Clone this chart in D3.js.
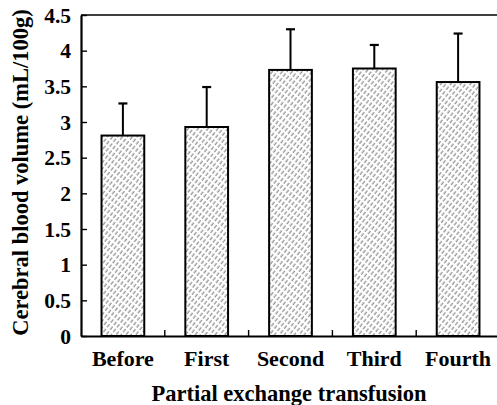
<!DOCTYPE html>
<html>
<head>
<meta charset="utf-8">
<script src="https://cdn.jsdelivr.net/npm/d3@7"></script>
<style>
  html, body { margin: 0; padding: 0; background: #fff; }
  svg { display: block; }
  text { font-family: "Liberation Serif", "Times New Roman", serif; font-weight: bold; fill: #000; }
</style>
</head>
<body>
<svg id="chart" width="497" height="405"></svg>
<script>
const categories = ["Before", "First", "Second", "Third", "Fourth"];
const means = [2.81, 2.93, 3.73, 3.75, 3.56];
const errorTops = [3.26, 3.49, 4.30, 4.08, 4.24];
const yTicks = [0, 0.5, 1, 1.5, 2, 2.5, 3, 3.5, 4, 4.5];
const yTickLabels = ["0", "0.5", "1", "1.5", "2", "2.5", "3", "3.5", "4", "4.5"];
const xTitle = "Partial exchange transfusion";
const yTitle = "Cerebral blood volume (mL/100g)";

const plotLeft = 81, plotRight = 500, plotTop = 15, plotBottom = 336;

const svg = d3.select("#chart");

const defs = svg.append("defs");
const pat = defs.append("pattern")
  .attr("id", "hatch")
  .attr("patternUnits", "userSpaceOnUse")
  .attr("width", 6).attr("height", 3.9)
  .attr("patternTransform", "rotate(-52)");
pat.append("rect").attr("width", 6).attr("height", 3.9).attr("fill", "#fff");
pat.append("line")
  .attr("x1", 0).attr("y1", 1.2).attr("x2", 6).attr("y2", 1.2)
  .attr("stroke", "#555").attr("stroke-width", 0.85)
  .attr("stroke-dasharray", "4,2");

const x = d3.scaleBand()
  .domain(categories)
  .range([plotLeft, plotRight])
  .paddingInner(0.49)
  .paddingOuter(0.245);

const y = d3.scaleLinear().domain([0, 4.5]).range([plotBottom, plotTop]);

// top frame line
svg.append("line")
  .attr("x1", plotLeft).attr("x2", plotRight)
  .attr("y1", y(4.5)).attr("y2", y(4.5))
  .attr("stroke", "#000").attr("stroke-width", 1.6);

// error bars
const capHalf = 4.5;
const eb = svg.append("g");
categories.forEach((c, i) => {
  const cx = x(c) + x.bandwidth() / 2;
  eb.append("line")
    .attr("x1", cx).attr("x2", cx)
    .attr("y1", y(means[i])).attr("y2", y(errorTops[i]))
    .attr("stroke", "#000").attr("stroke-width", 2);
  eb.append("line")
    .attr("x1", cx - capHalf).attr("x2", cx + capHalf)
    .attr("y1", y(errorTops[i])).attr("y2", y(errorTops[i]))
    .attr("stroke", "#000").attr("stroke-width", 2.2);
});

// bars
svg.append("g").selectAll("rect")
  .data(categories)
  .join("rect")
  .attr("x", d => x(d))
  .attr("width", x.bandwidth())
  .attr("y", (d, i) => y(means[i]))
  .attr("height", (d, i) => y(0) - y(means[i]))
  .attr("fill", "url(#hatch)")
  .attr("stroke", "#000")
  .attr("stroke-width", 2);

// y axis
const yAxis = d3.axisLeft(y)
  .tickValues(yTicks)
  .tickFormat((d, i) => yTickLabels[i])
  .tickSizeInner(-6)
  .tickSizeOuter(0)
  .tickPadding(10);
const gy = svg.append("g").attr("transform", `translate(${plotLeft},0)`).call(yAxis);
gy.select(".domain").attr("stroke", "#000").attr("stroke-width", 2.2);
gy.selectAll(".tick line").attr("stroke", "#000").attr("stroke-width", 1.4);
gy.selectAll(".tick text")
  .attr("font-family", "Liberation Serif")
  .attr("font-weight", "bold")
  .attr("font-size", 21.5)
  .attr("dy", "0.34em");

// x axis
const xAxis = d3.axisBottom(x).tickSize(0).tickSizeOuter(0);
const gx = svg.append("g").attr("transform", `translate(0,${plotBottom})`).call(xAxis);
gx.select(".domain").attr("stroke", "#000").attr("stroke-width", 2.2);
gx.selectAll(".tick text")
  .attr("font-family", "Liberation Serif")
  .attr("font-weight", "bold")
  .attr("font-size", 22)
  .attr("dy", null)
  .attr("y", 30);

// boundary ticks between categories
const bounds = categories.slice(0, -1).map(c => x(c) + x.bandwidth() + x.step() * x.paddingInner() / 2);
svg.append("g").selectAll("line")
  .data(bounds)
  .join("line")
  .attr("x1", d => d).attr("x2", d => d)
  .attr("y1", plotBottom).attr("y2", plotBottom - 6)
  .attr("stroke", "#000").attr("stroke-width", 1.4);

// axis titles
svg.append("text")
  .attr("x", 289)
  .attr("y", 401)
  .attr("text-anchor", "middle")
  .attr("font-size", 22.5)
  .text(xTitle);

svg.append("text")
  .attr("transform", `translate(28,172.5) rotate(-90)`)
  .attr("text-anchor", "middle")
  .attr("font-size", 22.5)
  .text(yTitle);
</script>
</body>
</html>
